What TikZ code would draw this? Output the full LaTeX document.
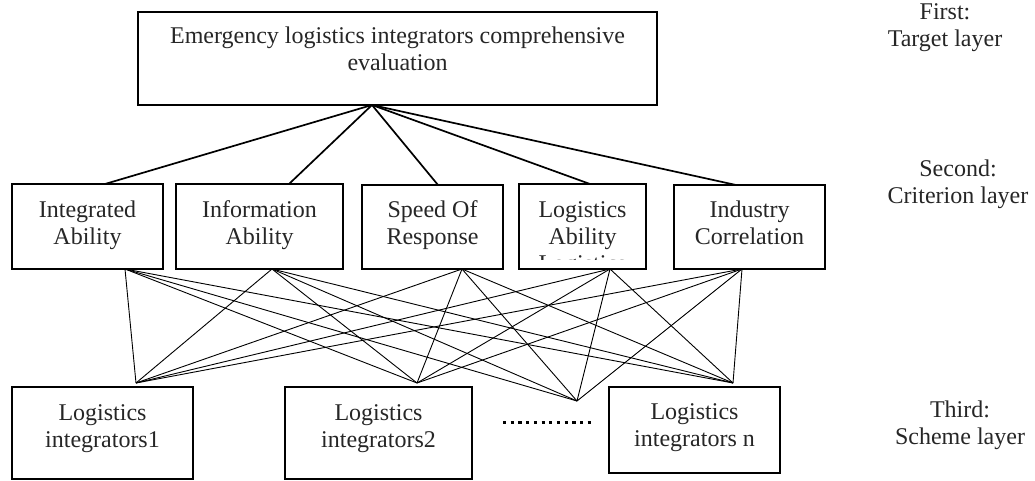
\documentclass[tikz,border=0pt]{standalone}
\usepackage{fontspec}
\setmainfont{Liberation Serif}
\begin{document}
\begin{tikzpicture}[x=1pt,y=-1pt,
  box/.style={draw, line width=1.6pt, inner sep=0pt},
  lbl/.style={font=\fontsize{24}{27}\selectfont, align=center, anchor=base,
              inner sep=0pt, text=black!85},
  link/.style={line width=1.7pt},
  web/.style={line width=0.9pt},
  dots/.style={line width=3pt, dash pattern=on 3.2pt off 4.5pt}]
\useasboundingbox (0,0) rectangle (1035,481);

% target layer (text nodes are placed by the baseline of their last line)
\node[box, minimum width=519pt, minimum height=93pt] (top) at (397.5,58.5) {};
\node[lbl] (toptext) at (397.5,71) {Emergency logistics integrators comprehensive\\evaluation};

% criterion layer
\node[box, minimum width=151pt, minimum height=85pt] (c1) at (87.5,226.5) {};
\node[box, minimum width=167pt, minimum height=85pt] (c2) at (259.5,226.5) {};
\node[box, minimum width=141pt, minimum height=84pt] (c3) at (432.5,227) {};
\node[box, minimum width=127pt, minimum height=85pt] (c4) at (582.5,226.5) {};
\node[box, minimum width=151pt, minimum height=84pt] (c5) at (749.5,227) {};
\node[lbl] (c1text) at (87.5,244) {Integrated\\Ability};
\node[lbl] (c2text) at (259.5,244) {Information\\Ability};
\node[lbl] (c3text) at (432.5,244) {Speed Of\\Response};
\node[lbl] (c4text) at (582.5,244) {Logistics\\Ability};
\node[lbl] (c5text) at (749.5,244) {Industry\\Correlation};
% overflowing third line, cut off by the text area of the box
\begin{scope}
  \clip (520,185) rectangle (645,259.5);
  \node[lbl] (c4over) at (582.5,271) {Logistics};
\end{scope}

% scheme layer
\node[box, minimum width=181pt, minimum height=92pt] (s1) at (102.5,433) {};
\node[box, minimum width=187pt, minimum height=92pt] (s2) at (378.5,433) {};
\node[box, minimum width=171pt, minimum height=86pt] (sn) at (694.5,430) {};
\node[lbl] (s1text) at (102.5,447) {Logistics\\integrators1};
\node[lbl] (s2text) at (378.5,447) {Logistics\\integrators2};
\node[lbl] (sntext) at (694.5,446) {Logistics\\integrators n};

% layer captions
\node[lbl] (first) at (945,47) {First:\\Target layer};
\node[lbl] (second) at (958,203) {Second:\\Criterion layer};
\node[lbl] (third) at (960,444) {Third:\\Scheme layer};

% attachment points
\coordinate (apex) at (372,105);
\coordinate (c1t) at (105,184);
\coordinate (c2t) at (289,184);
\coordinate (c3t) at (438,185);
\coordinate (c4t) at (590,184);
\coordinate (c5t) at (736,185);
\coordinate (c1b) at (125,269);
\coordinate (c2b) at (272,269);
\coordinate (c3b) at (462,269);
\coordinate (c4b) at (610,269);
\coordinate (c5b) at (742,269);
\coordinate (s1t) at (136,383);
\coordinate (s2t) at (417,383);
\coordinate (mid) at (577,401);
\coordinate (snt) at (733,383);
\coordinate (d1) at (503,422);
\coordinate (d2) at (592,422);

% target to criteria
\foreach \c in {c1,c2,c3,c4,c5}
  \draw[link] (apex) -- (\c t);

% criteria to schemes
\foreach \c in {c1,c2,c3,c4,c5}
  \foreach \s in {s1t,s2t,mid,snt}
    \draw[web] (\c b) -- (\s);

% ellipsis between schemes
\draw[dots] (d1) -- (d2);
\end{tikzpicture}
\end{document}
